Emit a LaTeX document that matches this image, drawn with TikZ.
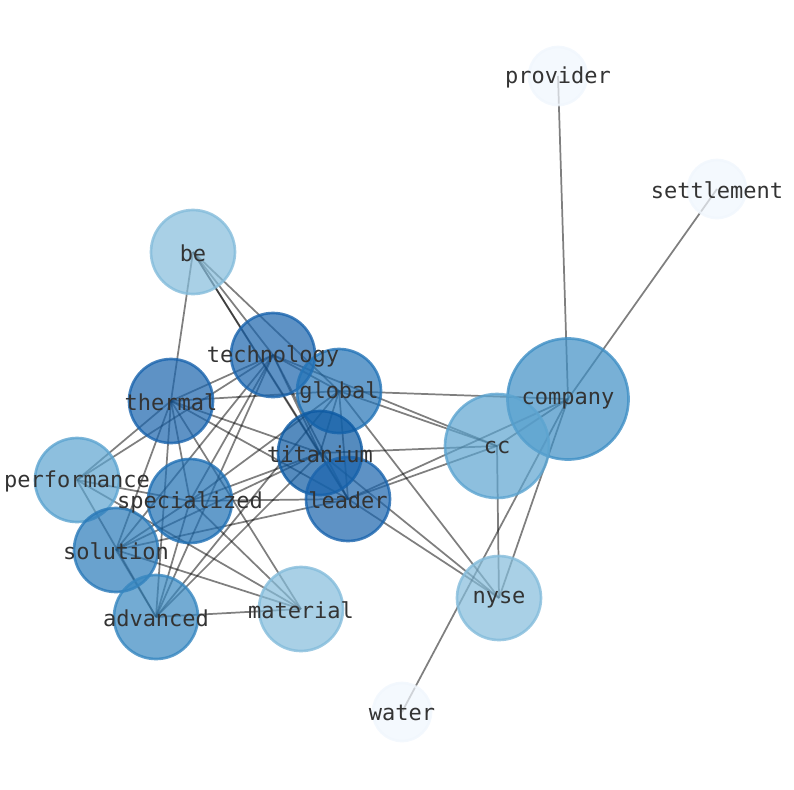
\documentclass[tikz,border=0pt]{standalone}
\usepackage{fontspec}
\setmonofont{DejaVu Sans Mono}
\usetikzlibrary{backgrounds}

\begin{document}
\begin{tikzpicture}[x=0.75pt, y=-0.75pt, font=\ttfamily\fontsize{16.5}{18}\selectfont,
    word/.style={circle, line width=2pt, fill opacity=0.7, draw opacity=0.8, minimum size=63pt, inner sep=0pt},
    wordtext/.style={text=black!80, inner sep=0pt, yshift=-1pt},
    link/.style={line width=1.3pt, draw=black, draw opacity=0.5}]
        % Define colors
        \definecolor{bdark}{HTML}{0D5AA3}
        \definecolor{bdeep}{HTML}{1A64AD}
        \definecolor{bmid}{HTML}{2474B7}
        \definecolor{bspec}{HTML}{2070B4}
        \definecolor{bsol}{HTML}{2A7AB9}
        \definecolor{badv}{HTML}{3787C0}
        \definecolor{bcomp}{HTML}{3F8FC5}
        \definecolor{bcc}{HTML}{5CA4D0}
        \definecolor{blight}{HTML}{84BCDB}
        \definecolor{bpale}{HTML}{F0F6FD}

        \useasboundingbox (0,0) rectangle (794,790);

        % Nodes
        \node[word, fill=bpale, draw=bpale, minimum size=43.5pt] (provider) at (558,76) {};
        \node[word, fill=bpale, draw=bpale, minimum size=43.5pt] (settlement) at (717,189) {};
        \node[word, fill=blight, draw=blight] (be) at (193,252) {};
        \node[word, fill=bdeep, draw=bdeep] (technology) at (273,355) {};
        \node[word, fill=bmid, draw=bmid] (global) at (339,391) {};
        \node[word, fill=bdeep, draw=bdeep] (thermal) at (171,401) {};
        \node[word, fill=bcomp, draw=bcomp, minimum size=90.75pt] (company) at (568,399) {};
        \node[word, fill=bcc, draw=bcc, minimum size=78pt] (cc) at (497,446) {};
        \node[word, fill=bdark, draw=bdark] (titanium) at (320,453) {};
        \node[word, fill=bdeep, draw=bdeep] (leader) at (348,499) {};
        \node[word, fill=bcc, draw=bcc] (performance) at (77,480) {};
        \node[word, fill=bspec, draw=bspec] (specialized) at (190,501) {};
        \node[word, fill=bsol, draw=bsol] (solution) at (116,550) {};
        \node[word, fill=badv, draw=badv] (advanced) at (156,617) {};
        \node[word, fill=blight, draw=blight] (material) at (301,609) {};
        \node[word, fill=blight, draw=blight] (nyse) at (499,598) {};
        \node[word, fill=bpale, draw=bpale, minimum size=43.5pt] (water) at (402,712) {};

        % Labels on top of all circles
        \foreach \w in {provider, settlement, be, technology, global, thermal, company, cc, titanium,
                leader, performance, specialized, solution, advanced, material, nyse, water} {
            \node[wordtext] (\w-text) at (\w) {\w};
        }

        % Edges
        \begin{scope}[on background layer]
        \foreach \a/\b in {be/thermal, be/technology, be/global, be/titanium, be/leader,
                technology/thermal, technology/global, technology/titanium, technology/leader,
                technology/specialized, technology/solution, technology/advanced, technology/performance, technology/cc,
                thermal/global, thermal/titanium, thermal/leader, thermal/specialized, thermal/solution,
                thermal/advanced, thermal/performance, thermal/material,
                global/titanium, global/leader, global/company, global/cc, global/nyse, global/specialized, global/advanced,
                titanium/leader, titanium/cc, titanium/nyse, titanium/specialized, titanium/solution, titanium/advanced,
                leader/cc, leader/nyse, leader/specialized, leader/solution, leader/company,
                specialized/solution, specialized/advanced, specialized/material,
                solution/advanced, solution/material,
                performance/advanced, performance/material, performance/specialized,
                advanced/material,
                company/provider, company/settlement, company/water, company/cc, company/nyse,
                cc/nyse} {
            \draw[link] (\a.center) -- (\b.center);
        }
        \end{scope}
    \end{tikzpicture}
\end{document}
